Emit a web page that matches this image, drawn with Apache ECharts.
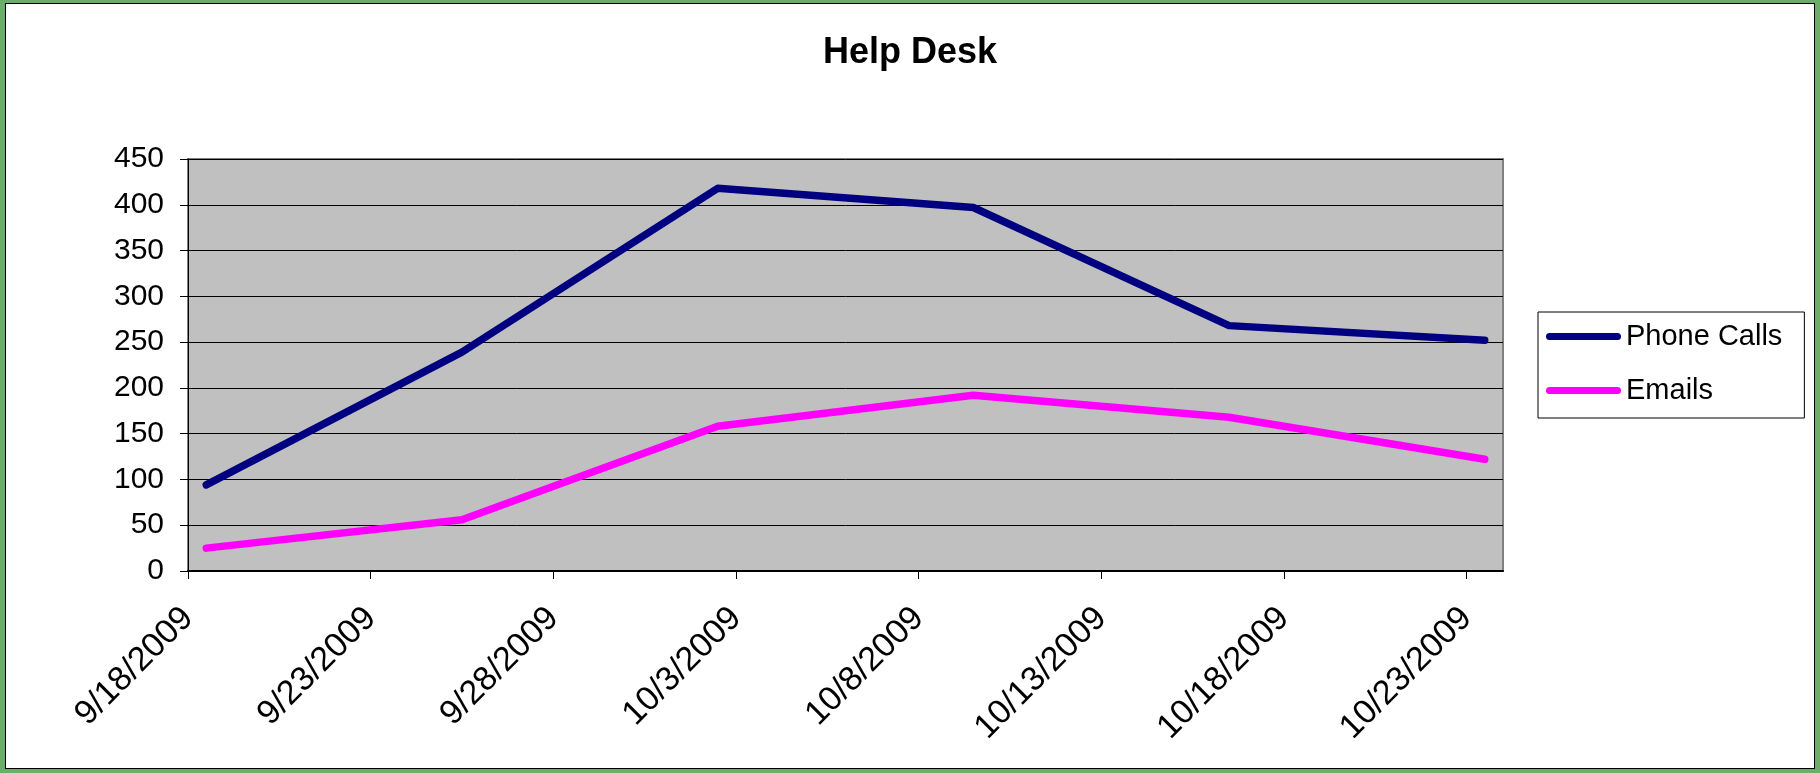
<!DOCTYPE html>
<html lang="en">

<head>
    <meta charset="UTF-8">
    <title>Help Desk</title>
    <script src="https://cdn.jsdelivr.net/npm/echarts@6/dist/echarts.min.js"></script>
    <style>
        html, body {
            margin: 0;
            padding: 0;
            width: 1820px;
            height: 773px;
            background: #6aae6a;
            overflow: hidden;
        }
        #frame {
            position: absolute;
            left: 5px;
            top: 3px;
            width: 1808px;
            height: 764px;
            border: 1px solid #000;
            background: #fff;
        }
        #main {
            width: 1808px;
            height: 764px;
        }
    </style>
</head>

<body>
    <div id="frame"><div id="main"></div></div>
    <script>
        // weekly counts
        const dates = ['9/18/2009', '9/25/2009', '10/2/2009', '10/9/2009', '10/16/2009', '10/23/2009'];
        const phoneCalls = [94, 239, 418, 397, 268, 252];
        const emails = [25, 56, 158, 192, 168, 122];

        // x axis ticks every 5 days
        const tickLabels = ['9/18/2009', '9/23/2009', '9/28/2009', '10/3/2009', '10/8/2009', '10/13/2009', '10/18/2009', '10/23/2009'];

        const DAY = 86400000;
        const start = Date.parse(tickLabels[0]);
        const dayOf = s => Math.round((Date.parse(s) - start) / DAY);

        const tickValues = tickLabels.map(dayOf);
        const lastDay = dayOf(dates[dates.length - 1]) + 1;

        // excel puts each point in the middle of its day
        const phoneData = dates.map((d, i) => [dayOf(d) + 0.5, phoneCalls[i]]);
        const emailData = dates.map((d, i) => [dayOf(d) + 0.5, emails[i]]);

        const font = "'Liberation Sans', Arial, sans-serif";
        // thick line with round ends for the legend
        const lineIcon = 'path://M3.5,0 L71.5,0 A3.5,3.5 0 0 1 71.5,7 L3.5,7 A3.5,3.5 0 0 1 3.5,0 Z';

        const chart = echarts.init(document.getElementById('main'));

        const option = {
            animation: false,
            title: {
                text: 'Help Desk',
                left: 'center',
                top: 26,
                textStyle: {
                    fontFamily: font,
                    fontSize: 36,
                    fontWeight: 'bold',
                    color: '#000'
                }
            },
            legend: {
                orient: 'vertical',
                left: 1532,
                top: 308,
                padding: [10, 22, 13, 8],
                itemWidth: 75,
                itemHeight: 7,
                itemGap: 25,
                icon: lineIcon,
                borderColor: '#000',
                borderWidth: 1,
                backgroundColor: '#fff',
                textStyle: {
                    fontFamily: font,
                    fontSize: 29,
                    color: '#000'
                },
                data: ['Phone Calls', 'Emails']
            },
            grid: {
                left: 182,
                top: 155,
                right: 311,
                bottom: 197,
                show: true,
                backgroundColor: '#c0c0c0',
                borderColor: '#808080',
                borderWidth: 2
            },
            xAxis: {
                type: 'value',
                min: 0,
                max: lastDay,
                interval: 5,
                axisLine: { show: true, lineStyle: { color: '#000', width: 2 } },
                axisTick: {
                    show: true,
                    length: 8,
                    customValues: tickValues,
                    lineStyle: { color: '#000' }
                },
                splitLine: { show: false },
                axisLabel: {
                    customValues: tickValues,
                    rotate: 45,
                    align: 'right',
                    verticalAlign: 'middle',
                    padding: [0, 0, 21, 0],
                    margin: 42,
                    fontFamily: font,
                    fontSize: 34,
                    color: '#000',
                    formatter: function (v) {
                        const i = tickValues.indexOf(v);
                        return i >= 0 ? tickLabels[i] : '';
                    }
                }
            },
            yAxis: {
                type: 'value',
                min: 0,
                max: 450,
                interval: 50,
                axisLine: { show: true, lineStyle: { color: '#000', width: 1 } },
                axisTick: { show: true, length: 8, lineStyle: { color: '#000' } },
                splitLine: { show: true, lineStyle: { color: '#000', width: 1 } },
                axisLabel: {
                    margin: 24,
                    fontFamily: font,
                    fontSize: 30,
                    color: '#000'
                }
            },
            series: [
                {
                    name: 'Phone Calls',
                    type: 'line',
                    symbol: 'none',
                    color: '#000080',
                    lineStyle: { width: 7.5, color: '#000080', cap: 'round', join: 'round' },
                    data: phoneData
                },
                {
                    name: 'Emails',
                    type: 'line',
                    symbol: 'none',
                    color: '#ff00ff',
                    lineStyle: { width: 7.5, color: '#ff00ff', cap: 'round', join: 'round' },
                    data: emailData
                }
            ]
        };

        chart.setOption(option);
    </script>
</body>

</html>
